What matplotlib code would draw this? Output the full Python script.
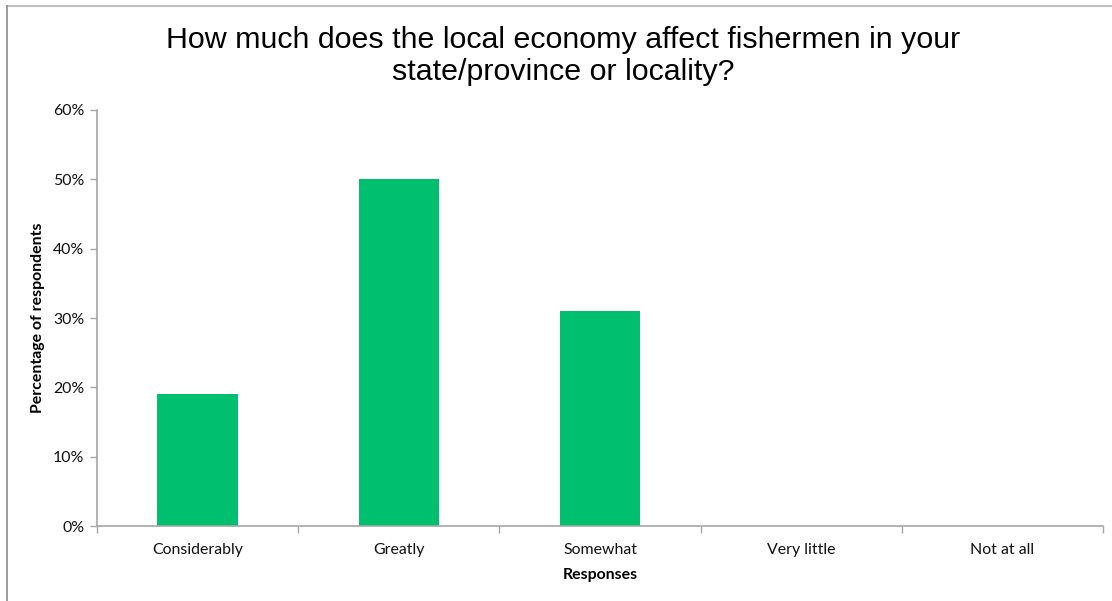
import numpy as np
import matplotlib
matplotlib.use("Agg")
import matplotlib.pyplot as plt
from matplotlib.lines import Line2D

# survey answers, share of respondents
categories = ["Considerably", "Greatly", "Somewhat", "Very little", "Not at all"]
shares = [19, 50, 31, 0, 0]
y_ticks = [0, 10, 20, 30, 40, 50, 60]
y_tick_labels = ["0%", "10%", "20%", "30%", "40%", "50%", "60%"]

title = "How much does the local economy affect fishermen in your\nstate/province or locality?"


def main():
    W, H = 1112, 601
    fs = 11.4
    fig = plt.figure(figsize=(W / 100, H / 100), dpi=100)
    ax = fig.add_axes([97 / W, (H - 526) / H, (1103 - 97) / W, (526 - 110) / H])

    x = np.arange(len(categories))
    ax.bar(x, shares, width=0.4, color="#00BF6F", zorder=2)

    ax.set_xlim(-0.5, len(categories) - 0.5)
    ax.set_ylim(0, 60)

    ax.set_yticks(y_ticks)
    ax.set_yticklabels(y_tick_labels, fontfamily="Lato", fontsize=fs, color="#111111")
    ax.tick_params(axis="y", direction="out", length=5, width=1, color="#A6A6A6", pad=4)

    ax.set_xticks(x)
    ax.set_xticklabels(categories, fontfamily="Lato", fontsize=fs, color="#111111")
    ax.set_xticks(np.arange(-0.5, len(categories)), minor=True)
    ax.tick_params(axis="x", which="major", length=0, pad=12)
    ax.tick_params(axis="x", which="minor", direction="out", length=5, width=1, color="#A6A6A6")

    for s in ["top", "right"]:
        ax.spines[s].set_visible(False)
    for s in ["left", "bottom"]:
        ax.spines[s].set_color("#A6A6A6")
        ax.spines[s].set_linewidth(1.2)

    ax.set_ylabel("Percentage of respondents", fontfamily="Lato", fontweight="bold",
                  fontsize=fs, labelpad=0)
    ax.yaxis.set_label_coords(-52 / (1103 - 97), 0.5)
    ax.set_xlabel("Responses", fontfamily="Lato", fontweight="bold", fontsize=fs)
    ax.xaxis.set_label_coords(0.5, -42 / (526 - 110), transform=ax.transAxes)

    fig.text(563 / W, 1 - 56 / H, title, ha="center", va="center",
             fontfamily="Liberation Sans", fontsize=21.9, linespacing=1.15)

    # chart frame (top and left edges visible)
    fig.add_artist(Line2D([7 / W, 1], [1 - 6 / H, 1 - 6 / H], color="#BFBFBF", lw=1.5,
                          transform=fig.transFigure))
    fig.add_artist(Line2D([7 / W, 7 / W], [0, 1 - 6 / H], color="#8C8C8C", lw=1.2,
                          transform=fig.transFigure))

    fig.savefig("out.png", dpi=100)


if __name__ == "__main__":
    main()
